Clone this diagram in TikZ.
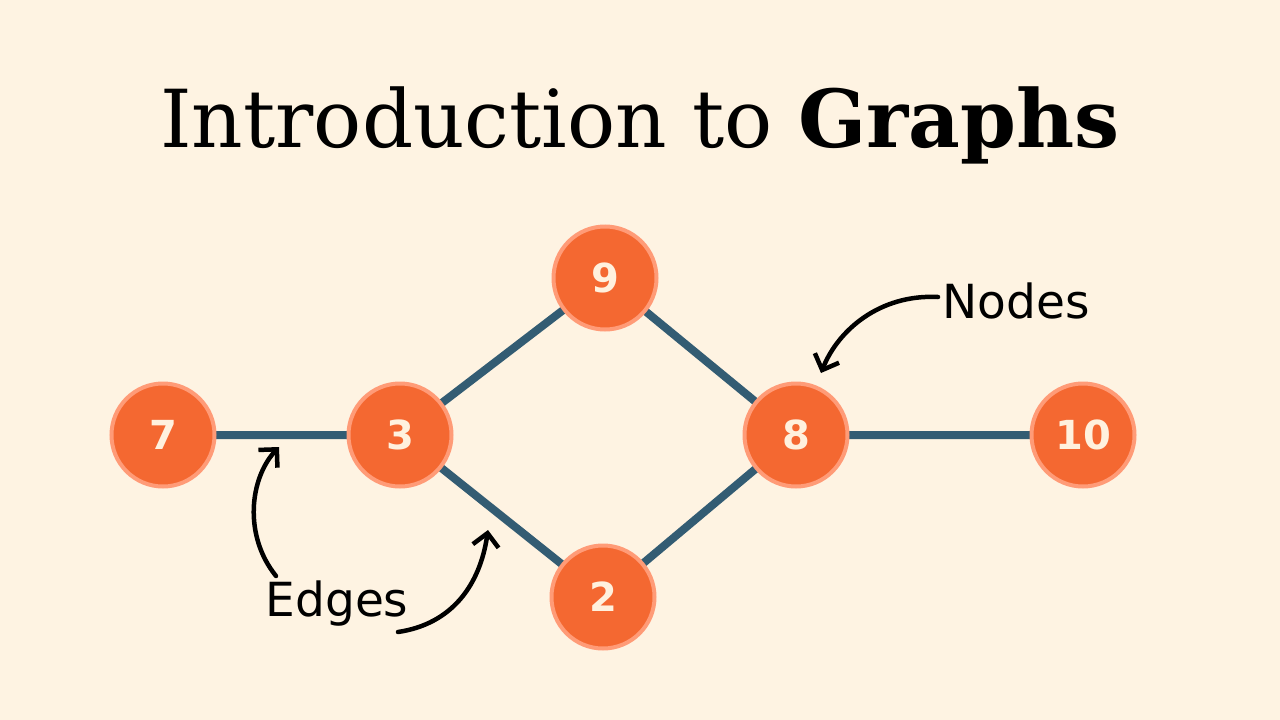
\documentclass[tikz,border=0pt]{standalone}
\usepackage{fontspec}
\setmainfont{DejaVu Serif}
\newfontfamily\handfont{DejaVu Sans}
\usetikzlibrary{arrows.meta}
\definecolor{bgc}{HTML}{FEF3E2}
\definecolor{nodefill}{HTML}{F46831}
\definecolor{noderim}{HTML}{FF9B77}
\definecolor{edgec}{HTML}{335C73}
\definecolor{numc}{HTML}{FFF1DE}
\tikzset{
  gnode/.style={circle, fill=nodefill, draw=noderim, line width=4pt, minimum size=103pt, inner sep=0pt, text=numc, font=\handfont\bfseries\fontsize{40}{40}\selectfont},
  gedge/.style={draw=edgec, line width=8pt},
  note/.style={draw=black, line width=4.5pt, line cap=round, line join=round, -{Straight Barb[length=13pt,width=26pt,line width=4.5pt]}},
  lab/.style={font=\handfont\fontsize{47}{47}\selectfont, text=black, inner sep=0pt}
}
\begin{document}
\begin{tikzpicture}[x=1pt,y=-1pt]
\fill[bgc] (0,0) rectangle (1280,720);
\useasboundingbox (0,0) rectangle (1280,720);
\node[font=\fontsize{80}{80}\selectfont, inner sep=0pt] (title) at (640,125) {Introduction to \textbf{Graphs}};
\coordinate (c7) at (163,435);
\coordinate (c3) at (400,435);
\coordinate (c9) at (605,278);
\coordinate (c8) at (796,435);
\coordinate (c2) at (603,597);
\coordinate (c10) at (1083,435);
\draw[gedge] (c7) -- (c3) -- (c9) -- (c8) -- (c10);
\draw[gedge] (c3) -- (c2) -- (c8);
\node[gnode] (n7) at (c7) {7};
\node[gnode] (n3) at (c3) {3};
\node[gnode] (n9) at (c9) {9};
\node[gnode] (n8) at (c8) {8};
\node[gnode] (n2) at (c2) {2};
\node[gnode] (n10) at (c10) {10};
\node[lab] (edges) at (337,604) {Edges};
\node[lab] (nodes) at (1016,301) {Nodes};
\coordinate (a1s) at (276,576);
\coordinate (a1e) at (279,447);
\coordinate (a2s) at (398,632);
\coordinate (a2e) at (488,530);
\coordinate (a3s) at (938,297);
\coordinate (a3e) at (821,373);
\draw[note] (a1s) .. controls (243,535) and (250,478) .. (a1e);
\draw[note] (a2s) .. controls (452,624) and (480,585) .. (a2e);
\draw[note] (a3s) .. controls (880,294) and (838,330) .. (a3e);
\end{tikzpicture}
\end{document}
